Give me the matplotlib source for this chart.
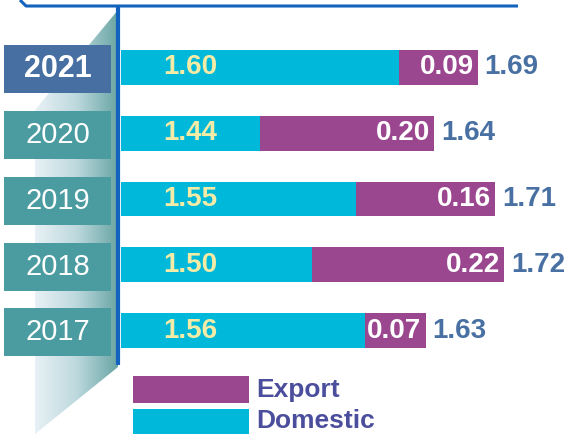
import numpy as np
import matplotlib
matplotlib.use("Agg")
import matplotlib.pyplot as plt
from matplotlib.patches import Rectangle, Polygon
from matplotlib import transforms
from matplotlib.colors import LinearSegmentedColormap

plt.rcParams['font.family'] = ['Liberation Sans', 'DejaVu Sans']

years = ["2021", "2020", "2019", "2018", "2017"]
domestic = [1.60, 1.44, 1.55, 1.50, 1.56]
export = [0.09, 0.20, 0.16, 0.22, 0.07]
totals = [1.69, 1.64, 1.71, 1.72, 1.63]

CYAN = "#00B9DA"
PURPLE = "#9B478F"
BLUE_LINE = "#1262BE"
TOTAL_COL = "#4870A2"
LEGEND_TXT = "#4B4E9C"

W, H = 566, 434
fig = plt.figure(figsize=(W / 100, H / 100), dpi=100)

# background decorations in pixel coordinates
deco = fig.add_axes([0, 0, 1, 1], zorder=0)
deco.set_xlim(0, W)
deco.set_ylim(H, 0)
deco.axis("off")

# shaded wedge behind the year boxes
wedge = Polygon([(118, 10), (118, 367), (35, 434), (35, 110)], closed=True,
                facecolor="none", edgecolor="none")
deco.add_patch(wedge)
cmap = LinearSegmentedColormap.from_list("wedge", ["#E8F1F5", "#BDD9DE", "#6AA5A4"])
grad = np.linspace(0, 1, 256).reshape(1, -1)
im = deco.imshow(grad, extent=(35, 118, 434, 10), cmap=cmap, aspect="auto", zorder=1)
im.set_clip_path(wedge)

# frame lines
deco.plot([20, 26, 518], [0, 6, 6], color=BLUE_LINE, lw=2.2, solid_capstyle="butt", zorder=3)
deco.plot([118, 118], [7, 365], color=BLUE_LINE, lw=3.0, solid_capstyle="butt", zorder=3)

# legend
deco.add_patch(Rectangle((133, 376), 116, 27, facecolor=PURPLE, edgecolor="none"))
deco.add_patch(Rectangle((133, 409), 116, 27, facecolor=CYAN, edgecolor="none"))
deco.text(256, 389.5, "Export", color=LEGEND_TXT, fontsize=19, fontweight="bold", va="center")
deco.text(256, 421, "Domestic", color=LEGEND_TXT, fontsize=19, fontweight="bold", va="center")

# bar chart
x0, px_per_unit = 1.28, 870.0
ax_left = 121
ax = fig.add_axes([ax_left / W, 0, (W - ax_left) / W, 1], zorder=2)
ax.patch.set_alpha(0)
ax.set_xlim(x0, x0 + (W - ax_left) / px_per_unit)
row0, row_step = 67.5, 65.75
ax.set_ylim((H - row0) / row_step, -row0 / row_step)
ax.axis("off")

pos = np.arange(len(years))
ax.barh(pos, domestic, height=0.53, color=CYAN, zorder=2)
ax.barh(pos, export, left=domestic, height=0.53, color=PURPLE, zorder=2)

pt = 0.72  # points per pixel at 100 dpi
for i in pos:
    ax.annotate(f"{domestic[i]:.2f}", xy=(x0, i), xytext=(42 * pt, 0), textcoords="offset points",
                color="#F4ECA6", fontsize=20, fontweight="bold", va="center", ha="left")
    end = domestic[i] + export[i]
    ax.annotate(f"{export[i]:.2f}", xy=(end, i), xytext=(-4 * pt, 0), textcoords="offset points",
                color="white", fontsize=20, fontweight="bold", va="center", ha="right")
    ax.annotate(f"{totals[i]:.2f}", xy=(end, i), xytext=(7 * pt, 0), textcoords="offset points",
                color=TOTAL_COL, fontsize=20, fontweight="bold", va="center", ha="left")

# year boxes to the left of the axis line
trans = transforms.blended_transform_factory(fig.transFigure, ax.transData)
for i in pos:
    first = i == 0
    ax.add_patch(Rectangle((4 / W, i + 0.03 - 0.365), 107 / W, 0.73, transform=trans,
                           facecolor="#476FA1" if first else "#4A9CA0", edgecolor="none",
                           clip_on=False, zorder=3))
    ax.text(57.5 / W, i + 0.03, years[i], transform=trans, color="white",
            fontsize=22 if first else 21,
            fontweight="bold" if first else "normal", ha="center", va="center", zorder=4)

fig.savefig("out.png", dpi=100)
